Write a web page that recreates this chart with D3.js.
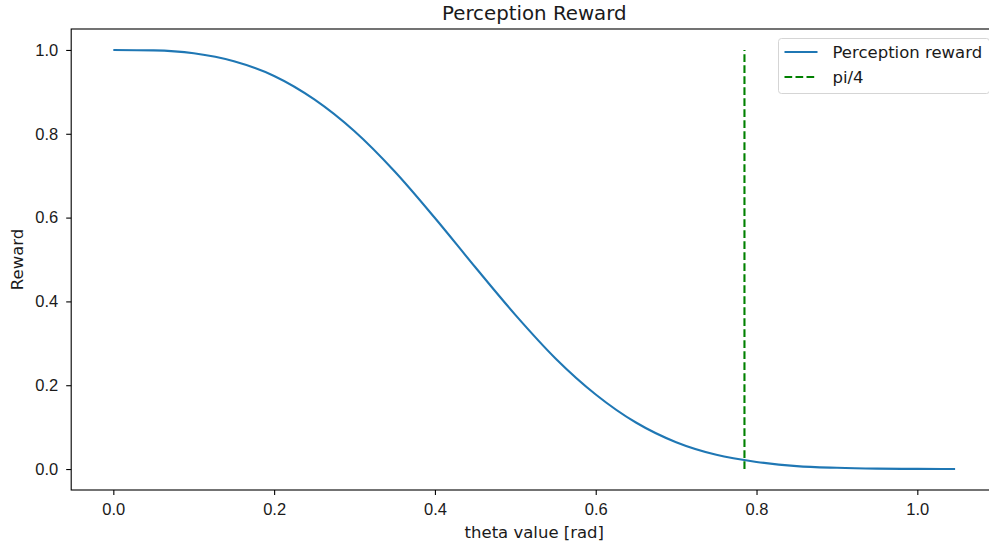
<!DOCTYPE html>
<html>
<head>
<meta charset="utf-8">
<script src="https://cdn.jsdelivr.net/npm/d3@7"></script>
<style>
	body { margin: 0; background: #fff; }
	svg { display: block; font-family: "DejaVu Sans", sans-serif; }
	.tick text { font-size: 16.5px; fill: #1a1a1a; }
	.tick line { stroke: #000; stroke-width: 1.1; }
</style>
</head>
<body>
<svg width="989" height="546"></svg>
<script>

// values
var thetaValues = [0, 0.05, 0.1, 0.15, 0.2, 0.25, 0.3, 0.35, 0.4, 0.45, 0.5, 0.55, 0.6, 0.65, 0.7, 0.75, 0.8, 0.85, 0.9, 0.95, 1.0, 1.047];
var rewardValues = [1.0, 0.999, 0.992, 0.973, 0.938, 0.882, 0.806, 0.71, 0.599, 0.482, 0.368, 0.264, 0.178, 0.111, 0.064, 0.034, 0.017, 0.007, 0.003, 0.001, 0.0003, 0.0001];

var piQuarter = 0.785;
var piLineY = [0, 1];

var xTicks = [0.0, 0.2, 0.4, 0.6, 0.8, 1.0];
var yTicks = [0.0, 0.2, 0.4, 0.6, 0.8, 1.0];

var legendLabels = ['Perception reward', 'pi/4'];

var svg = d3.select('svg');

// axes box (right spine falls just outside the window)
var axLeft = 71.2, axRight = 997.4, axTop = 29, axBottom = 490;

var xScale = d3.scaleLinear()
	.domain([-0.0524, 1.0996])
	.range([axLeft, axRight]);

var yScale = d3.scaleLinear()
	.domain([-0.05, 1.05])
	.range([axBottom, axTop]);

var dataset = thetaValues.map(function(t, i) { return {x: t, y: rewardValues[i]}; });

var line = d3.line()
	.x(function(d) { return xScale(d.x); })
	.y(function(d) { return yScale(d.y); })
	.curve(d3.curveMonotoneX);

svg.append('path')
	.datum(dataset)
	.attr('fill', 'none')
	.attr('stroke', '#1f77b4')
	.attr('stroke-width', 2.1)
	.attr('d', line);

svg.append('line')
	.attr('x1', xScale(piQuarter)).attr('x2', xScale(piQuarter))
	.attr('y1', yScale(piLineY[0])).attr('y2', yScale(piLineY[1]))
	.attr('stroke', '#008000')
	.attr('stroke-width', 2.1)
	.attr('stroke-dasharray', '7.7,3.3');

// x axis
var xAxis = svg.append('g')
	.attr('transform', 'translate(0,' + axBottom + ')')
	.call(d3.axisBottom(xScale).tickValues(xTicks).tickFormat(d3.format('.1f')).tickSize(5).tickPadding(8));
xAxis.select('.domain').remove();

// y axis
var yAxis = svg.append('g')
	.attr('transform', 'translate(' + axLeft + ',0)')
	.call(d3.axisLeft(yScale).tickValues(yTicks).tickFormat(d3.format('.1f')).tickSize(5).tickPadding(8));
yAxis.select('.domain').remove();

// spines
svg.append('rect')
	.attr('x', axLeft).attr('y', axTop)
	.attr('width', axRight - axLeft).attr('height', axBottom - axTop)
	.attr('fill', 'none')
	.attr('stroke', '#000')
	.attr('stroke-width', 1.1);

// title and labels
svg.append('text')
	.attr('x', (axLeft + axRight) / 2).attr('y', 20)
	.attr('text-anchor', 'middle')
	.attr('font-size', '19.8px')
	.attr('fill', '#1a1a1a')
	.text('Perception Reward');

svg.append('text')
	.attr('x', (axLeft + axRight) / 2).attr('y', 538)
	.attr('text-anchor', 'middle')
	.attr('font-size', '16.5px')
	.attr('fill', '#1a1a1a')
	.text('theta value [rad]');

svg.append('text')
	.attr('transform', 'translate(23,' + (axTop + axBottom) / 2 + ') rotate(-90)')
	.attr('text-anchor', 'middle')
	.attr('font-size', '16.5px')
	.attr('fill', '#1a1a1a')
	.text('Reward');

// legend
var legend = svg.append('g').attr('transform', 'translate(778.5,38.5)');
legend.append('rect')
	.attr('width', 211).attr('height', 55)
	.attr('rx', 3)
	.attr('fill', 'rgba(255,255,255,0.8)')
	.attr('stroke', '#d5d5d5')
	.attr('stroke-width', 1);

var colors = ['#1f77b4', '#008000'];
var dashes = [null, '7.7,3.3'];
legendLabels.forEach(function(label, i) {
	var cy = 13.5 + i * 25;
	legend.append('line')
		.attr('x1', 6).attr('x2', 39)
		.attr('y1', cy).attr('y2', cy)
		.attr('stroke', colors[i])
		.attr('stroke-width', 2.1)
		.attr('stroke-dasharray', dashes[i]);
	legend.append('text')
		.attr('x', 54).attr('y', cy)
		.attr('dy', '0.35em')
		.attr('font-size', '16.5px')
		.attr('fill', '#1a1a1a')
		.text(label);
});
</script>
</body>
</html>
